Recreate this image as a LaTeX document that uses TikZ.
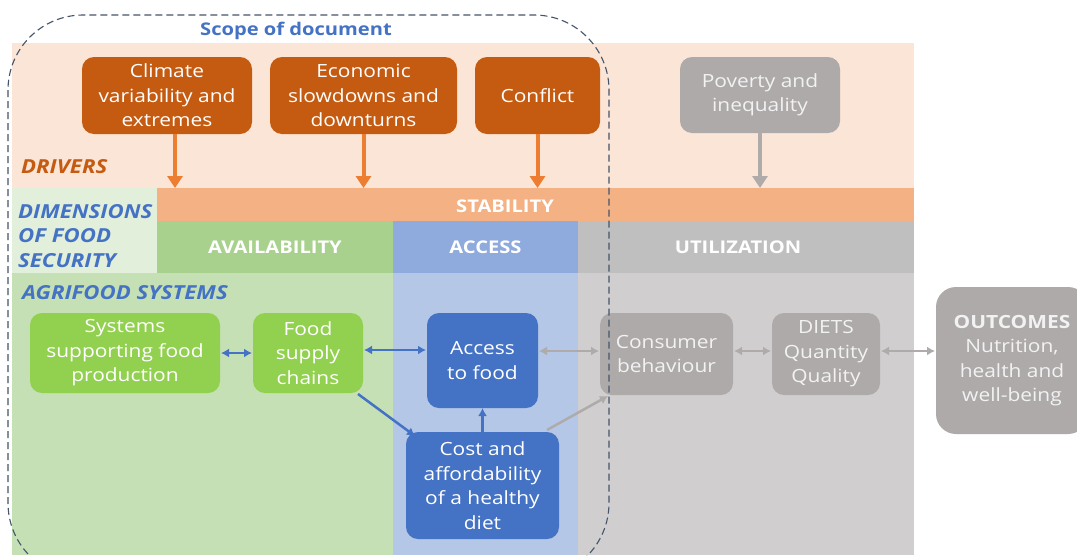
\documentclass[tikz,border=0pt]{standalone}
\usepackage{fontspec}
\setmainfont{Open Sans}[FakeStretch=1.15]
\usetikzlibrary{arrows.meta}
\definecolor{peach}{HTML}{FBE5D6}
\definecolor{stabc}{HTML}{F4B183}
\definecolor{drvc}{HTML}{C55A11}
\definecolor{orarr}{HTML}{ED7D31}
\definecolor{greyb}{HTML}{AEAAAA}
\definecolor{greyarr}{HTML}{AFABAB}
\definecolor{dimg}{HTML}{E2EFDA}
\definecolor{availc}{HTML}{A9D18E}
\definecolor{accc}{HTML}{8FAADC}
\definecolor{utilc}{HTML}{BFBFBF}
\definecolor{lowg}{HTML}{C5E0B4}
\definecolor{lowb}{HTML}{B4C7E7}
\definecolor{lowgr}{HTML}{D0CECE}
\definecolor{greenb}{HTML}{92D050}
\definecolor{blueb}{HTML}{4472C4}
\definecolor{slate}{HTML}{44546A}
\tikzset{
  band/.style={inner sep=0, outer sep=0, text=white, font=\fontsize{17.5}{20}\selectfont\bfseries},
  boxbase/.style={rounded corners=12pt, align=center, inner sep=0, outer sep=0, text=white,
     font=\fontsize{18.2}{24.5}\selectfont},
  drvbox/.style={boxbase, fill=drvc},
  greybox/.style={boxbase, fill=greyb, text=white!95!black},
  greenbox/.style={boxbase, fill=greenb},
  bluebox/.style={boxbase, fill=blueb},
  bigarr/.style={line width=4pt, -{Triangle[width=15pt,length=12pt]}},
  dblarr/.style={line width=2.5pt, {Latex[width=9pt,length=8pt]}-{Latex[width=9pt,length=8pt]}, shorten <=1pt, shorten >=1pt},
  onearr/.style={line width=2.5pt, -{Latex[width=9pt,length=8pt]}},
  seclabel/.style={anchor=west, inner sep=0, text=blueb, font=\fontsize{19.3}{24.5}\selectfont\bfseries\itshape, align=left},
}
\begin{document}
\begin{tikzpicture}[x=1pt,y=-1pt]
\clip (0,0) rectangle (1077,555);
\fill[white] (0,0) rectangle (1077,555);
% bands
\fill[peach] (12,43) rectangle (914,188);
\fill[dimg] (12,188) rectangle (157,273);
\node[band, fill=stabc, minimum width=757pt, minimum height=33pt] (stab) at (535.5,204.5) {};
\node[band] (stabt) at (505,206) {STABILITY};
\node[band, fill=availc, minimum width=236pt, minimum height=52pt] (avail) at (275,247) {AVAILABILITY};
\node[band, fill=accc, minimum width=185pt, minimum height=52pt] (acc) at (485.5,247) {ACCESS};
\node[band, fill=utilc, minimum width=336pt, minimum height=52pt] (util) at (746,247) {};
\node[band] (utilt) at (738,247) {UTILIZATION};
\fill[lowg] (12,273) rectangle (393,555);
\fill[lowb] (393,273) rectangle (578,555);
\fill[lowgr] (578,273) rectangle (914,555);
% labels
\node[anchor=center, inner sep=0, text=blueb, font=\fontsize{17.5}{20}\selectfont\bfseries] (scope) at (296,31) {Scope of document};
\node[seclabel, text=drvc] (drivers) at (21,167) {DRIVERS};
\node[seclabel] (dims) at (18,236) {DIMENSIONS\\OF FOOD\\SECURITY};
\node[seclabel] (agri) at (22,293) {AGRIFOOD SYSTEMS};
% driver boxes
\node[drvbox, minimum width=170pt, minimum height=77pt] (climate) at (167,95.5) {Climate\\variability and\\extremes};
\node[drvbox, minimum width=187pt, minimum height=77pt] (econ) at (363.5,95.5) {Economic\\slowdowns and\\downturns};
\node[drvbox, minimum width=125pt, minimum height=77pt] (conflict) at (537.5,95.5) {Conflict};
\node[greybox, minimum width=160pt, minimum height=76pt] (poverty) at (760,95) {Poverty and\\inequality};
\draw[bigarr, orarr] (climate.south -| 175,0) -- (175,188);
\draw[bigarr, orarr] (econ.south) -- (econ.south |- stab.north);
\draw[bigarr, orarr] (conflict.south) -- (conflict.south |- stab.north);
\draw[bigarr, greyarr] (poverty.south) -- (poverty.south |- stab.north);
% agrifood boxes
\node[greenbox, minimum width=190pt, minimum height=80pt] (systems) at (125,353) {Systems\\supporting food\\production};
\node[greenbox, minimum width=110pt, minimum height=80pt] (food) at (308,353) {Food\\supply\\chains};
\node[bluebox, minimum width=111pt, minimum height=95pt] (access) at (482.5,360.5) {Access\\to food};
\node[bluebox, minimum width=153pt, minimum height=107pt] (cost) at (482.5,485.5) {Cost and\\affordability\\of a healthy\\diet};
\node[greybox, minimum width=133pt, minimum height=82pt] (consumer) at (666.5,354) {Consumer\\behaviour};
\node[greybox, minimum width=108pt, minimum height=82pt] (diets) at (826,354) {DIETS\\Quantity\\Quality};
\node[greybox, minimum width=152pt, minimum height=147pt, rounded corners=20pt] (outcomes) at (1012,360.5) {\textbf{OUTCOMES}\\Nutrition,\\health and\\well-being};
% connectors
\draw[dblarr, blueb] (systems.east) -- (food.west);
\draw[dblarr, blueb] ([yshift=3pt]food.east) -- ([yshift=3pt]food.east -| access.west);
\draw[dblarr, greyarr] ([yshift=3pt]consumer.west -| access.east) -- ([yshift=3pt]consumer.west);
\draw[dblarr, greyarr] ([yshift=3pt]consumer.east) -- ([yshift=3pt]diets.west);
\draw[dblarr, greyarr] ([yshift=3pt]diets.east) -- ([yshift=3pt]diets.east -| outcomes.west);
\draw[onearr, blueb] ([xshift=-5pt,yshift=-1pt]food.south east) -- ([xshift=9pt,yshift=-4pt]cost.north west);
\draw[onearr, blueb] (cost.north) -- (access.south);
\draw[onearr, greyarr] ([xshift=-12pt,yshift=2pt]cost.north east) -- ([xshift=8pt,yshift=-1pt]consumer.south west);
% scope outline
\draw[slate, line width=1.1pt, dash pattern=on 7pt off 4pt, rounded corners=75pt] (8,15) rectangle (609,578);
\end{tikzpicture}
\end{document}
